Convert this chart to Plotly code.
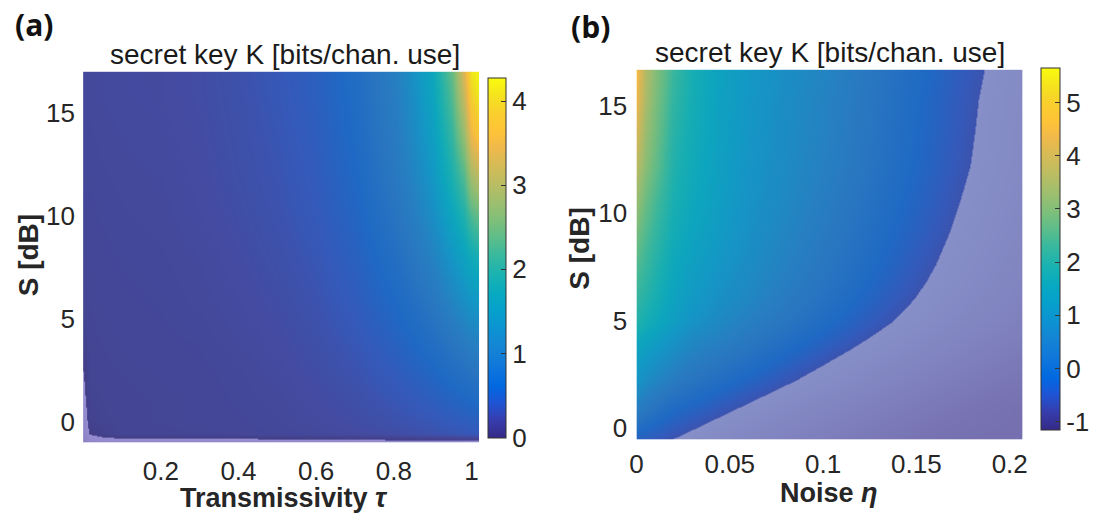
import plotly.graph_objects as go

# ---------------- data ----------------
# Panel (a): transmissivity tau (columns) x squeezing S in dB (rows)
tau_a = [0, 0.015, 0.05, 0.1, 0.2, 0.3, 0.4, 0.5, 0.6, 0.7, 0.8, 0.85, 0.9, 0.95, 0.98, 1.0, 1.02]
S_a = [-1, -0.55, 0, 1, 2.5, 4, 6, 8, 10, 12, 14, 16, 17]
K_a = [
    [-0.25, -0.15, -0.12, -0.12, -0.12, -0.12, -0.12, -0.12, -0.12, -0.12, -0.12, -0.12, -0.12, -0.12, -0.12, -0.12, -0.12],
    [-0.20, 0.01, 0.06, 0.12, 0.12, 0.13, 0.14, 0.16, 0.18, 0.21, 0.25, 0.28, 0.31, 0.35, 0.37, 0.39, 0.40],
    [-0.15, 0.07, 0.10, 0.12, 0.13, 0.14, 0.15, 0.17, 0.20, 0.24, 0.30, 0.33, 0.37, 0.42, 0.45, 0.47, 0.48],
    [-0.06, 0.09, 0.11, 0.12, 0.13, 0.14, 0.16, 0.18, 0.22, 0.27, 0.35, 0.40, 0.46, 0.53, 0.58, 0.62, 0.64],
    [0.00, 0.11, 0.12, 0.13, 0.14, 0.15, 0.17, 0.20, 0.25, 0.32, 0.43, 0.51, 0.60, 0.72, 0.80, 0.86, 0.90],
    [0.08, 0.12, 0.13, 0.14, 0.15, 0.16, 0.19, 0.22, 0.28, 0.37, 0.52, 0.62, 0.75, 0.92, 1.04, 1.12, 1.16],
    [0.12, 0.13, 0.14, 0.15, 0.16, 0.18, 0.21, 0.25, 0.32, 0.44, 0.63, 0.77, 0.95, 1.20, 1.36, 1.46, 1.52],
    [0.14, 0.14, 0.15, 0.16, 0.17, 0.19, 0.23, 0.28, 0.36, 0.50, 0.74, 0.92, 1.15, 1.45, 1.65, 1.80, 1.90],
    [0.15, 0.15, 0.16, 0.17, 0.18, 0.21, 0.25, 0.31, 0.40, 0.56, 0.85, 1.06, 1.33, 1.70, 1.98, 2.30, 2.45],
    [0.16, 0.16, 0.17, 0.18, 0.19, 0.22, 0.27, 0.33, 0.43, 0.61, 0.94, 1.18, 1.48, 1.95, 2.35, 2.90, 3.10],
    [0.17, 0.17, 0.18, 0.19, 0.20, 0.23, 0.28, 0.35, 0.46, 0.65, 1.00, 1.27, 1.60, 2.15, 2.80, 3.50, 3.80],
    [0.18, 0.18, 0.19, 0.20, 0.21, 0.24, 0.29, 0.37, 0.48, 0.68, 1.05, 1.33, 1.70, 2.35, 3.20, 3.95, 4.20],
    [0.18, 0.18, 0.19, 0.20, 0.21, 0.24, 0.30, 0.38, 0.49, 0.70, 1.08, 1.37, 1.75, 2.45, 3.35, 4.15, 4.28],
]

# Panel (b): noise eta (columns) x squeezing S in dB (rows)
eta_b = [0, 0.005, 0.01, 0.02, 0.03, 0.045, 0.06, 0.08, 0.10, 0.12, 0.14, 0.16, 0.17, 0.18, 0.19, 0.207]
S_b = [-0.55, 0.8, 2.2, 3.7, 4.3, 4.9, 5.45, 6.0, 6.8, 7.6, 9.2, 10.7, 12.2, 13.8, 15.3, 16.7]
K_b = [
    [-0.35, -0.43, -0.51, -0.67, -0.83, -1.07, -1.31, -1.63, -1.95, -2.27, -2.59, -2.91, -3.00, -3.00, -3.00, -3.00],
    [0.50, 0.30, 0.12, -0.15, -0.31, -0.55, -0.79, -1.11, -1.43, -1.75, -2.07, -2.39, -2.55, -2.71, -2.87, -3.00],
    [1.10, 0.92, 0.75, 0.45, 0.23, -0.01, -0.25, -0.57, -0.89, -1.21, -1.53, -1.85, -2.01, -2.17, -2.33, -2.60],
    [1.50, 1.35, 1.22, 0.97, 0.71, 0.47, 0.23, -0.09, -0.41, -0.73, -1.05, -1.37, -1.53, -1.69, -1.85, -2.12],
    [1.75, 1.58, 1.43, 1.12, 0.87, 0.65, 0.41, 0.09, -0.23, -0.55, -0.87, -1.19, -1.35, -1.51, -1.67, -1.95],
    [2.00, 1.82, 1.65, 1.32, 1.06, 0.81, 0.57, 0.25, -0.07, -0.39, -0.71, -1.03, -1.19, -1.35, -1.51, -1.79],
    [2.12, 1.93, 1.75, 1.40, 1.15, 0.90, 0.68, 0.36, 0.04, -0.28, -0.60, -0.92, -1.08, -1.24, -1.40, -1.67],
    [2.25, 2.05, 1.85, 1.47, 1.22, 0.98, 0.77, 0.45, 0.13, -0.19, -0.51, -0.83, -0.99, -1.15, -1.31, -1.58],
    [2.40, 2.18, 1.95, 1.55, 1.30, 1.05, 0.85, 0.55, 0.23, -0.09, -0.41, -0.73, -0.89, -1.05, -1.21, -1.48],
    [2.55, 2.30, 2.05, 1.62, 1.38, 1.12, 0.92, 0.63, 0.31, -0.01, -0.33, -0.65, -0.81, -0.97, -1.13, -1.40],
    [2.90, 2.55, 2.25, 1.78, 1.52, 1.25, 1.00, 0.74, 0.44, 0.12, -0.20, -0.52, -0.68, -0.84, -1.00, -1.27],
    [3.30, 2.80, 2.45, 1.90, 1.62, 1.32, 1.06, 0.82, 0.53, 0.21, -0.11, -0.43, -0.59, -0.75, -0.91, -1.18],
    [3.70, 3.10, 2.70, 2.00, 1.70, 1.37, 1.10, 0.87, 0.61, 0.29, -0.03, -0.35, -0.51, -0.67, -0.83, -1.10],
    [4.10, 3.30, 2.85, 2.10, 1.75, 1.40, 1.14, 0.90, 0.65, 0.33, 0.01, -0.31, -0.47, -0.63, -0.79, -1.07],
    [4.40, 3.50, 2.95, 2.20, 1.80, 1.42, 1.17, 0.92, 0.68, 0.36, 0.04, -0.28, -0.44, -0.60, -0.76, -1.03],
    [4.60, 3.60, 3.05, 2.30, 1.85, 1.45, 1.20, 0.95, 0.73, 0.41, 0.09, -0.23, -0.39, -0.55, -0.71, -0.99],
]

cbar_a = [0, 4.28]
cbar_b = [-1.15, 5.66]
ticks_a = [0, 1, 2, 3, 4]
ticks_b = [-1, 0, 1, 2, 3, 4, 5]
xt_a = [0.2, 0.4, 0.6, 0.8, 1]
xt_b = [0, 0.05, 0.1, 0.15, 0.2]
yt = [0, 5, 10, 15]

# ---------------- styling ----------------
PARULA = [
    (0.00, (53, 42, 135)), (0.05, (54, 61, 173)), (0.095, (32, 83, 212)),
    (0.143, (2, 104, 225)), (0.206, (16, 121, 218)), (0.254, (20, 133, 212)),
    (0.302, (12, 147, 210)), (0.35, (6, 160, 205)), (0.397, (7, 169, 194)),
    (0.444, (21, 177, 180)), (0.508, (56, 185, 158)), (0.55, (89, 189, 140)),
    (0.60, (124, 191, 123)), (0.651, (156, 191, 111)), (0.70, (183, 189, 100)),
    (0.75, (210, 187, 88)), (0.81, (241, 185, 74)), (0.85, (254, 195, 56)),
    (0.90, (250, 206, 46)), (0.95, (245, 227, 30)), (1.00, (249, 251, 14)),
]


def rgb(c):
    return "rgb(%d,%d,%d)" % tuple(int(round(v)) for v in c)


def parula_at(f):
    for (f0, c0), (f1, c1) in zip(PARULA[:-1], PARULA[1:]):
        if f0 <= f <= f1:
            t = (f - f0) / (f1 - f0)
            return tuple(a + (b - a) * t for a, b in zip(c0, c1))
    return PARULA[-1][1] if f > 1 else PARULA[0][1]


def muted(c, f):
    grey = (100, 108, 130)
    if f <= 0.2:
        w = 0.3
    elif f <= 0.42:
        w = 0.3 - (f - 0.2) / 0.22 * 0.26
    else:
        w = 0.04
    return tuple((1 - w) * a + w * g for a, g in zip(c, grey))


parula_scale = [[f, rgb(c)] for f, c in PARULA]


def plot_scale(zmin, zmax, cmin, cmax, t0, neg_dark, neg_light):
    span = zmax - zmin
    p0 = (t0 - zmin) / span
    sc = [[0.0, rgb(neg_dark)], [p0 - 1e-6, rgb(neg_light)]]
    f0 = (t0 - cmin) / (cmax - cmin)
    sc.append([p0, rgb(muted(parula_at(f0), f0))])
    for f, c in PARULA:
        v = cmin + f * (cmax - cmin)
        p = (v - zmin) / span
        if p > p0 + 1e-6:
            sc.append([min(p, 1.0), rgb(muted(c, f))])
    if sc[-1][0] < 1.0:
        sc.append([1.0, sc[-1][1]])
    return sc


ZA = (-0.3, 4.28)
ZB = (-3.0, 5.66)
scale_a = plot_scale(ZA[0], ZA[1], cbar_a[0], cbar_a[1], 0.0, (134, 126, 194), (150, 142, 208))
scale_b = plot_scale(ZB[0], ZB[1], cbar_b[0], cbar_b[1], -0.65, (118, 112, 176), (134, 143, 200))

FONT = "Liberation Sans, Arial, sans-serif"
TXT = "#262626"
W, H = 1095, 527


def px(x):
    return x / W


def py(y):
    return 1 - y / H


fig = go.Figure()

fig.add_trace(go.Heatmap(x=tau_a, y=S_a, z=K_a, zmin=ZA[0], zmax=ZA[1], colorscale=scale_a,
                         zsmooth="best", showscale=False, xaxis="x", yaxis="y", hoverinfo="skip"))
fig.add_trace(go.Heatmap(x=eta_b, y=S_b, z=K_b, zmin=ZB[0], zmax=ZB[1], colorscale=scale_b,
                         zsmooth="best", showscale=False, xaxis="x2", yaxis="y2", hoverinfo="skip"))


def cbar_trace(xa, ya, rng, ticks, x0, x1, y0, y1):
    return go.Scatter(
        x=[0.5], y=[-100], mode="markers", xaxis=xa, yaxis=ya, hoverinfo="skip", showlegend=False,
        marker=dict(size=1, opacity=0, color=[rng[0]], cmin=rng[0], cmax=rng[1],
                    colorscale=parula_scale, showscale=True,
                    colorbar=dict(x=px(x0), xanchor="left", thickness=x1 - x0, thicknessmode="pixels",
                                  len=(y1 - y0) / H, lenmode="fraction", y=py((y0 + y1) / 2),
                                  yanchor="middle", xpad=0, ypad=0, outlinewidth=1, outlinecolor="#333333",
                                  tickvals=ticks, ticktext=[str(t) for t in ticks], ticks="inside",
                                  ticklen=5, tickcolor="#333333", tickwidth=1,
                                  tickfont=dict(family=FONT, size=26, color=TXT))))


fig.add_trace(cbar_trace("x", "y", cbar_a, ticks_a, 487, 505, 78, 440))
fig.add_trace(cbar_trace("x2", "y2", cbar_b, ticks_b, 1046, 1065, 68, 432))

axis_common = dict(showgrid=False, zeroline=False, showline=False, ticks="outside",
                   tickcolor="rgba(0,0,0,0)", tickfont=dict(family=FONT, size=26, color=TXT))

fig.update_layout(
    width=W, height=H, autosize=False, margin=dict(l=0, r=0, t=0, b=0),
    paper_bgcolor="white", plot_bgcolor="white", showlegend=False,
    xaxis=dict(domain=[px(77), px(478)], range=[0, 1.02], tickvals=xt_a,
               ticktext=[str(t) for t in xt_a], anchor="y", ticklen=5, **axis_common),
    yaxis=dict(domain=[py(445), py(72)], range=[-1, 17], tickvals=yt, anchor="x", ticklen=2,
               **axis_common),
    xaxis2=dict(domain=[px(637), px(1028)], range=[0, 0.207], tickvals=xt_b,
                ticktext=["0", "0.05", "0.1", "0.15", "0.2"], anchor="y2", ticklen=1, **axis_common),
    yaxis2=dict(domain=[py(442), py(70)], range=[-0.55, 16.7], tickvals=yt, anchor="x2", ticklen=3,
                **axis_common),
)

title = "secret key K [bits/chan. use]"
ann = [
    dict(x=px(281), y=py(55), text=title, font=dict(family=FONT, size=28, color="#1a1a1a")),
    dict(x=px(833), y=py(53), text=title, font=dict(family=FONT, size=28, color="#1a1a1a")),
    dict(x=px(22), y=py(257), text="<b>S [dB]</b>", textangle=-90, font=dict(family=FONT, size=28, color=TXT)),
    dict(x=px(579), y=py(250), text="<b>S [dB]</b>", textangle=-90, font=dict(family=FONT, size=28, color=TXT)),
    dict(x=px(280), y=py(501), text="<b>Transmissivity <i>τ</i></b>", font=dict(family=FONT, size=27, color=TXT)),
    dict(x=px(832), y=py(496), text="<b>Noise <i>η</i></b>", font=dict(family=FONT, size=27, color=TXT)),
    dict(x=px(6), y=py(25), text="<b>(a)</b>", xanchor="left", font=dict(family="Open Sans", size=30, color="#111111")),
    dict(x=px(569), y=py(27), text="<b>(b)</b>", xanchor="left", font=dict(family="Open Sans", size=30, color="#111111")),
]
for a in ann:
    a.setdefault("xanchor", "center")
    a.update(xref="paper", yref="paper", yanchor="middle", showarrow=False)
fig.update_layout(annotations=ann)

fig.write_html("out.html")
